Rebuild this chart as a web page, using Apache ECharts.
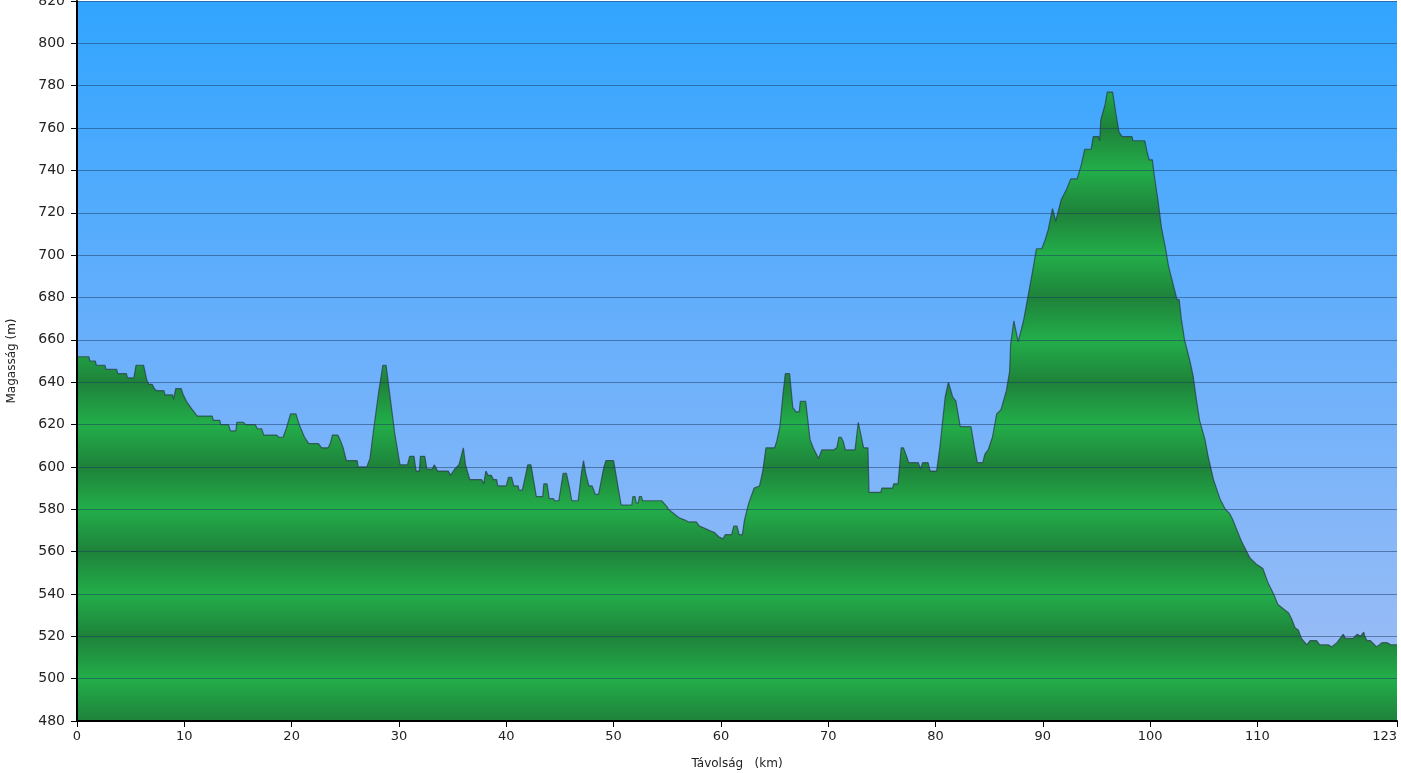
<!DOCTYPE html>
<html>
<head>
<meta charset="utf-8">
<script src="https://cdn.jsdelivr.net/npm/echarts@6/dist/echarts.min.js"></script>
<style>
html,body{margin:0;padding:0;background:#fff;}
#chart{width:1401px;height:773px;}
</style>
</head>
<body>
<div id="chart"></div>
<script>
// Distance along the route (km)
var distanceKm = [0,1.1,1.2,1.7,1.8,2.6,2.7,3.7,3.8,4.6,4.7,5.3,5.5,6.2,6.5,6.7,7.0,7.2,7.4,8.1,8.2,8.9,9.0,9.2,9.7,9.9,10.2,10.6,10.9,11.2,12.6,12.7,13.3,13.4,14.1,14.3,14.8,14.9,15.5,15.7,16.6,16.8,17.2,17.4,18.6,18.8,19.2,19.5,19.9,20.4,20.7,21.2,21.6,22.5,22.8,23.4,23.6,23.8,24.3,24.5,24.8,25.1,26.1,26.2,27.0,27.3,27.6,28.1,28.5,28.8,29.2,29.6,30.1,30.8,31.0,31.4,31.6,31.9,32.0,32.4,32.6,33.1,33.3,33.6,34.6,34.8,35.2,35.6,36.0,36.2,36.6,37.7,37.9,38.1,38.3,38.6,38.8,39.1,39.2,40.0,40.2,40.5,40.7,41.1,41.2,41.5,41.8,42.0,42.3,42.6,42.8,43.4,43.5,43.8,44.0,44.4,44.5,44.9,45.3,45.6,45.9,46.1,46.7,47.0,47.2,47.4,47.7,48.0,48.3,48.6,49.1,49.3,50.0,50.3,50.7,51.7,51.8,52.0,52.1,52.3,52.4,52.6,52.7,54.5,55.0,55.1,55.6,56.1,56.6,57.0,57.7,58.0,58.5,58.9,59.4,59.8,60.2,60.4,61.0,61.2,61.5,61.7,62.0,62.2,62.6,63.1,63.6,63.9,64.2,65.0,65.2,65.5,65.8,66.0,66.4,66.7,67.0,67.3,67.4,67.9,68.3,68.6,69.1,69.4,70.5,70.8,71.0,71.2,71.4,71.6,72.5,72.8,72.9,73.3,73.7,73.8,74.9,75.0,76.0,76.1,76.5,76.8,77.0,77.3,77.5,78.4,78.6,78.8,79.3,79.5,80.1,80.4,80.9,81.2,81.6,81.9,82.3,83.3,83.6,83.9,84.4,84.6,84.9,85.3,85.7,86.1,86.6,86.9,87.0,87.3,87.7,88.2,88.6,89.1,89.4,89.9,90.2,90.5,90.9,91.0,91.2,91.7,92.2,92.6,93.2,93.6,93.9,94.5,94.7,95.2,95.3,95.4,95.8,96.0,96.5,96.8,97.1,97.4,98.3,98.4,99.5,99.7,99.9,100.2,100.4,100.75,101.05,101.4,101.7,102.2,102.5,102.7,102.9,103.2,103.7,104.0,104.3,104.6,105.1,105.4,105.9,106.5,107.0,107.4,107.7,108.1,108.5,108.9,109.3,109.9,110.5,111.0,111.5,111.9,112.4,112.9,113.2,113.5,113.8,114.1,114.6,114.9,115.5,115.8,116.6,116.9,117.4,117.7,118.0,118.2,118.9,119.3,119.6,119.9,120.0,120.2,120.5,121.1,121.6,122.1,122.4,123.0];
// Elevation (m)
var elevationM = [652,652,650,650,648,648,646,646,644,644,642,642,648,648,641,639,639,637,636,636,634,634,632,637,637,634,631,628,626,624,624,622,622,620,620,617,617,621,621,620,620,618,618,615,615,614,614,618,625,625,620,614,611,611,609,609,611,615,615,613,609,603,603,600,600,604,616,635,648,648,632,616,601,601,605,605,598,598,605,605,599,599,601,598,598,596,599,601,609,601,594,594,592,598,596,596,594,594,591,591,595,595,591,591,589,589,596,601,601,592,586,586,592,592,585,585,584,584,597,597,590,584,584,597,603,597,591,591,587,587,600,603,603,594,582,582,586,586,583,583,586,586,584,584,581,580,578,576,575,574,574,572,571,570,569,567,566,568,568,572,572,568,568,575,583,590,591,598,609,609,612,619,635,644,644,628,626,626,631,631,613,609,604,608,608,609,614,614,612,608,608,621,621,609,609,588,588,590,590,592,592,609,609,605,602,602,599,602,602,598,598,609,633,640,633,631,619,619,610,602,602,606,608,614,625,627,636,645,658,669,659,669,680,694,703,703,707,712,722,722,716,726,731,736,736,743,750,750,756,756,754,764,771,777,777,767,758,756,756,754,754,749,745,745,737,725,713,704,695,685,679,679,670,660,650,643,632,622,613,605,594,585,580,578,575,570,565,561,557,554,552,545,540,535,533,531,528,524,523,519,516,518,518,516,516,515,517,519,521,519,519,521,520,522,520,518,518,515,517,517,516,516];
// Tick labels
var xTickValues = [0,10,20,30,40,50,60,70,80,90,100,110,123];
var yMin = 480, yMax = 820, yStep = 20;

var gridTop = 1, gridBottom = 52, gridLeft = 77, gridRight = 4;
var chartH = 773;
var plotTop = gridTop, plotBottom = chartH - gridBottom;

// Horizontal striped green fill: dark every 40 m, light between
var stops = [];
var nSteps = (yMax - yMin) / yStep;
for (var i = 0; i <= nSteps; i++) {
  var v = yMax - i * yStep;
  var dark = ((v - yMin) % 40) === 0;
  stops.push({offset: i / nSteps, color: dark ? '#1e823a' : '#23ae4a'});
}
var greenFill = new echarts.graphic.LinearGradient(0, plotTop, 0, plotBottom, stops, true);

var seriesData = distanceKm.map(function (d, i) { return [d, elevationM[i]]; });

var font = '"DejaVu Sans", Verdana, sans-serif';
var chart = echarts.init(document.getElementById('chart'), null, {renderer: 'canvas'});
chart.setOption({
  animation: false,
  backgroundColor: '#ffffff',
  grid: {
    left: gridLeft, right: gridRight, top: gridTop, bottom: gridBottom,
    containLabel: false, outerBoundsMode: 'none',
    show: true, borderWidth: 0,
    backgroundColor: {
      type: 'linear', x: 0, y: 0, x2: 0, y2: 1,
      colorStops: [
        {offset: 0, color: '#31a5ff'},
        {offset: 0.5, color: '#6cb0fb'},
        {offset: 1, color: '#a3bff5'}
      ]
    }
  },
  xAxis: {
    type: 'value', min: 0, max: 123, interval: 10, z: 5,
    name: 'Távolság   (km)', nameLocation: 'middle', nameGap: 37,
    nameTextStyle: {fontFamily: font, fontSize: 12, color: '#222'},
    axisLine: {show: true, onZero: false, lineStyle: {color: '#000', width: 2}},
    axisTick: {show: true, length: 6, customValues: xTickValues, lineStyle: {color: '#000', width: 1}},
    axisLabel: {customValues: xTickValues, fontFamily: font, fontSize: 13, color: '#222', margin: 9,
                alignMaxLabel: 'right', showMaxLabel: true},
    splitLine: {show: false}
  },
  yAxis: {
    type: 'value', min: yMin, max: yMax, interval: yStep, z: 5,
    name: 'Magasság (m)', nameLocation: 'middle', nameGap: 59, nameRotate: 90,
    nameTextStyle: {fontFamily: font, fontSize: 12, color: '#222'},
    axisLine: {show: true, lineStyle: {color: '#000', width: 2}},
    axisTick: {show: true, length: 6, lineStyle: {color: '#000', width: 1}},
    axisLabel: {fontFamily: font, fontSize: 14, color: '#222', margin: 12},
    splitLine: {show: true, lineStyle: {color: 'rgba(25,55,95,0.5)', width: 1}}
  },
  series: [{
    type: 'line',
    data: seriesData,
    symbol: 'none',
    smooth: false,
    z: 2,
    lineStyle: {color: 'rgba(40,55,65,0.7)', width: 1.2},
    areaStyle: {color: greenFill, opacity: 1, origin: 'start'}
  }]
});
</script>
</body>
</html>
